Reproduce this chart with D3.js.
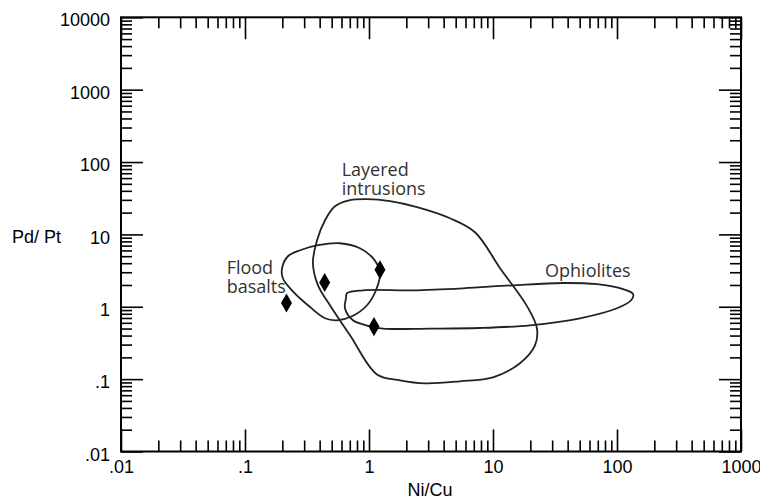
<!DOCTYPE html>
<html>
<head>
<meta charset="utf-8">
<script src="https://cdn.jsdelivr.net/npm/d3@7"></script>
<style>
  html, body { margin: 0; padding: 0; background: #fff; }
  svg { display: block; }
</style>
</head>
<body>
<svg id="chart" width="760" height="500"></svg>
<script>
// Log-log discrimination plot: Pd/Pt against Ni/Cu with fields for
// flood basalts, layered intrusions and ophiolites.

const xMajorTicks = [0.01, 0.1, 1, 10, 100, 1000];
const xTickLabels = [".01", ".1", "1", "10", "100", "1000"];
const yMajorTicks = [0.01, 0.1, 1, 10, 100, 1000, 10000];
const yTickLabels = [".01", ".1", "1", "10", "100", "1000", "10000"];

// Field outlines as [Ni/Cu, Pd/Pt] vertices
const layeredIntrusions = [
  [0.353, 4.0], [0.381, 8.3], [0.442, 15.7], [0.532, 24.5], [0.703, 29.7],
  [0.964, 30.7], [1.476, 28.8], [2.44, 23.8], [4.5, 16.7], [7.16, 10.7],
  [11.4, 3.41], [18.8, 1.02], [22.6, 0.505], [21.8, 0.293], [16.5, 0.166],
  [10.0, 0.106], [5.42, 0.0933], [2.83, 0.0873], [1.78, 0.0962], [1.16, 0.116],
  [0.703, 0.404], [0.484, 1.05], [0.388, 1.98]
];
const floodBasalts = [
  [0.199, 3.41], [0.222, 4.99], [0.278, 6.04], [0.388, 7.09], [0.583, 7.55],
  [0.845, 6.44], [1.077, 4.69], [1.226, 3.0], [1.138, 1.69], [0.964, 1.05],
  [0.729, 0.739], [0.552, 0.65], [0.442, 0.693], [0.322, 1.05], [0.239, 1.69],
  [0.202, 2.48]
];
const ophiolites = [
  [0.665, 1.54], [0.896, 1.69], [2.26, 1.69], [5.73, 1.80], [14.5, 1.98],
  [36.7, 2.13], [69, 2.05], [112, 1.75], [135, 1.49], [130, 1.23],
  [100, 0.953], [50.3, 0.693], [19.9, 0.554], [7.85, 0.509], [3.10, 0.499],
  [1.30, 0.499], [1.02, 0.537], [0.743, 0.65], [0.64, 0.953], [0.652, 1.31]
];

// Sample points
const sampleNiCu = [0.216, 0.439, 1.226, 1.097];
const samplePdPt = [1.13, 2.16, 3.25, 0.532];

const fieldNames = [["Flood", "basalts"], ["Layered", "intrusions"], ["Ophiolites"]];

const svg = d3.select("#chart");
const margin = { left: 121, top: 17.3, right: 19, bottom: 48.5 };
const W = 760 - margin.left - margin.right;
const H = 500 - margin.top - margin.bottom;

const x = d3.scaleLog().domain([0.01, 1000]).range([0, W]);
const y = d3.scaleLog().domain([0.01, 10000]).range([H, 0]);

const g = svg.append("g").attr("transform", `translate(${margin.left},${margin.top})`);

const isDecade = v => Math.abs(Math.log10(v) - Math.round(Math.log10(v))) < 1e-9;
const xMinor = x.ticks().filter(v => !isDecade(v));
const yMinor = y.ticks().filter(v => !isDecade(v));

const MAJOR = 22, MINOR = 11;
const axisFont = "'Liberation Sans', Arial, sans-serif";
const AXIS_FS = 18;

function styleAxis(sel) {
  sel.select(".domain").remove();
  sel.selectAll(".tick line").attr("stroke", "#000").attr("stroke-width", 1.6);
  sel.selectAll("text").attr("fill", "#000");
  sel.attr("font-family", axisFont).attr("font-size", AXIS_FS);
}

// bottom
g.append("g").attr("transform", `translate(0,${H})`)
  .call(d3.axisBottom(x).tickValues(xMajorTicks).tickSizeInner(-MAJOR).tickSizeOuter(0)
    .tickPadding(9).tickFormat((d, i) => xTickLabels[i]))
  .call(styleAxis);
g.append("g").attr("transform", `translate(0,${H})`)
  .call(d3.axisBottom(x).tickValues(xMinor).tickSizeInner(-MINOR).tickSizeOuter(0).tickFormat(""))
  .call(styleAxis);
// top
g.append("g")
  .call(d3.axisTop(x).tickValues(xMajorTicks).tickSizeInner(-MAJOR).tickSizeOuter(0).tickFormat(""))
  .call(styleAxis);
g.append("g")
  .call(d3.axisTop(x).tickValues(xMinor).tickSizeInner(-MINOR).tickSizeOuter(0).tickFormat(""))
  .call(styleAxis);
// left
const leftAxis = g.append("g")
  .call(d3.axisLeft(y).tickValues(yMajorTicks).tickSizeInner(-MAJOR).tickSizeOuter(0)
    .tickPadding(11).tickFormat((d, i) => yTickLabels[i]))
  .call(styleAxis);
leftAxis.selectAll("text").attr("dy", "0.48em");
g.append("g")
  .call(d3.axisLeft(y).tickValues(yMinor).tickSizeInner(-MINOR).tickSizeOuter(0).tickFormat(""))
  .call(styleAxis);
// right
g.append("g").attr("transform", `translate(${W},0)`)
  .call(d3.axisRight(y).tickValues(yMajorTicks).tickSizeInner(-MAJOR).tickSizeOuter(0).tickFormat(""))
  .call(styleAxis);
g.append("g").attr("transform", `translate(${W},0)`)
  .call(d3.axisRight(y).tickValues(yMinor).tickSizeInner(-MINOR).tickSizeOuter(0).tickFormat(""))
  .call(styleAxis);

// frame
g.append("rect").attr("width", W).attr("height", H)
  .attr("fill", "none").attr("stroke", "#000").attr("stroke-width", 2);

// axis titles
svg.append("text").attr("x", margin.left + W * 0.5 - 1).attr("y", 496)
  .attr("text-anchor", "middle").attr("font-family", axisFont).attr("font-size", AXIS_FS)
  .text("Ni/Cu");
svg.append("text").attr("x", 12).attr("y", 242.5)
  .attr("font-family", axisFont).attr("font-size", AXIS_FS)
  .text("Pd/ Pt");

// field outlines
const outline = d3.line()
  .x(d => x(d[0])).y(d => y(d[1]))
  .curve(d3.curveCatmullRomClosed.alpha(0.5));

[layeredIntrusions, floodBasalts, ophiolites].forEach(pts => {
  g.append("path").attr("d", outline(pts))
    .attr("fill", "none").attr("stroke", "#222").attr("stroke-width", 1.8)
    .attr("stroke-linejoin", "round");
});

// samples
const diamond = d3.symbol().type(d3.symbolDiamond).size(105);
g.selectAll(".sample").data(sampleNiCu).join("path")
  .attr("class", "sample")
  .attr("transform", (d, i) => `translate(${x(d)},${y(samplePdPt[i])})`)
  .attr("d", diamond).attr("fill", "#000");

// field labels, anchored at [Ni/Cu, Pd/Pt] (first baseline)
const labelFont = "'Open Sans', 'Noto Sans', sans-serif";
const labelAnchors = [[0.0711, 2.82], [0.602, 63.8], [26.3, 2.58]];
fieldNames.forEach((lines, k) => {
  const t = g.append("text")
    .attr("x", x(labelAnchors[k][0])).attr("y", y(labelAnchors[k][1]))
    .attr("font-family", labelFont).attr("font-size", 18).attr("fill", "#333");
  lines.forEach((s, j) => {
    t.append("tspan").attr("x", x(labelAnchors[k][0])).attr("dy", j === 0 ? 0 : 18.5).text(s);
  });
});
</script>
</body>
</html>
